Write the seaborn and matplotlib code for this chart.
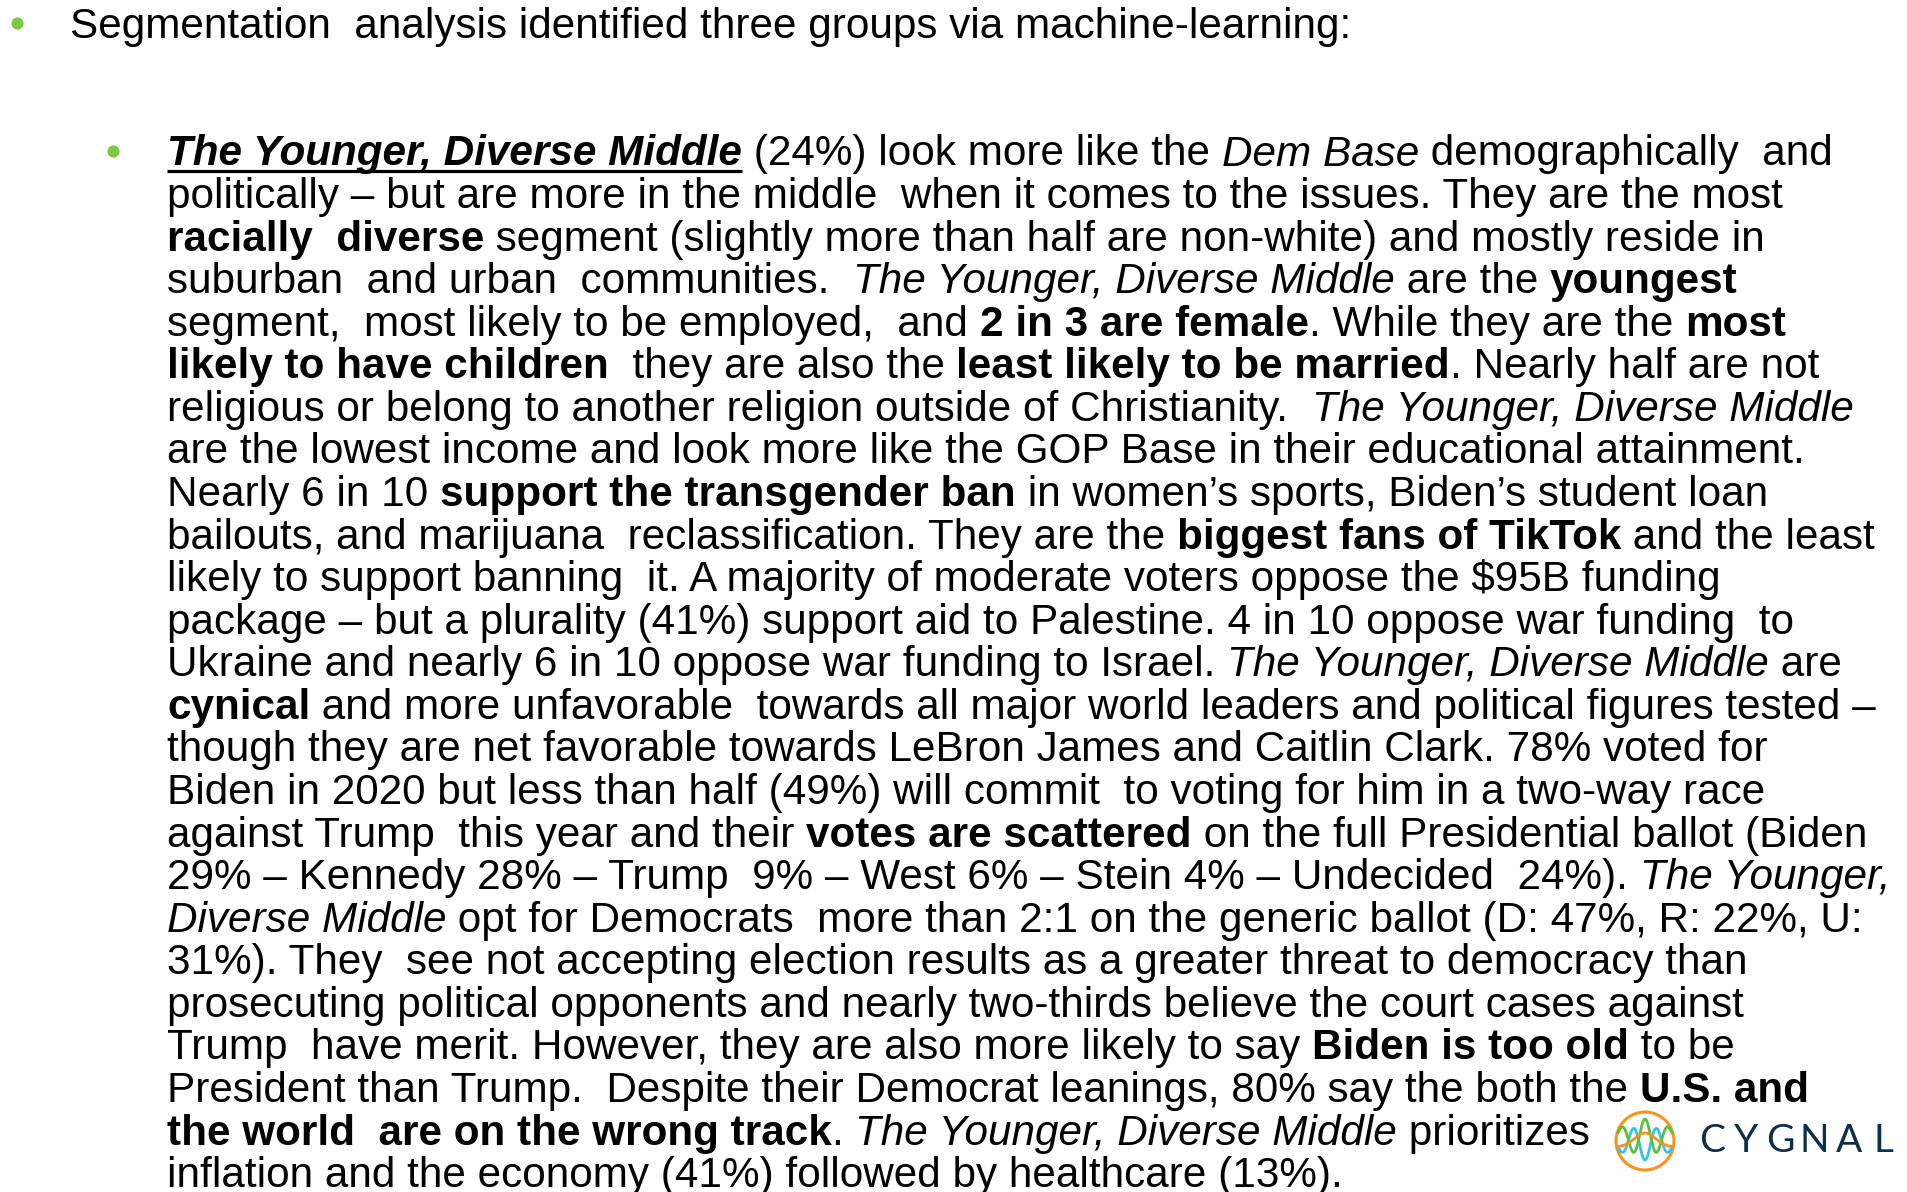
import re
import numpy as np
import matplotlib
matplotlib.use("Agg")
import matplotlib.pyplot as plt
import seaborn as sns

# slide text (markup: **bold**, _italic_, __bold italic underlined__)
header_text = "Segmentation  analysis identified three groups via machine-learning:"
body_lines = [
    "__The Younger, Diverse Middle__ (24%) look more like the _Dem Base_ demographically  and",
    "politically – but are more in the middle  when it comes to the issues. They are the most",
    "**racially  diverse** segment (slightly more than half are non-white) and mostly reside in",
    "suburban  and urban  communities.  _The Younger, Diverse Middle_ are the **youngest**",
    "segment,  most likely to be employed,  and **2 in 3 are female**. While they are the **most**",
    "**likely to have children**  they are also the **least likely to be married**. Nearly half are not",
    "religious or belong to another religion outside of Christianity.  _The Younger, Diverse Middle_",
    "are the lowest income and look more like the GOP Base in their educational attainment.",
    "Nearly 6 in 10 **support the transgender ban** in women’s sports, Biden’s student loan",
    "bailouts, and marijuana  reclassification. They are the **biggest fans of TikTok** and the least",
    "likely to support banning  it. A majority of moderate voters oppose the $95B funding",
    "package – but a plurality (41%) support aid to Palestine. 4 in 10 oppose war funding  to",
    "Ukraine and nearly 6 in 10 oppose war funding to Israel. _The Younger, Diverse Middle_ are",
    "**cynical** and more unfavorable  towards all major world leaders and political figures tested –",
    "though they are net favorable towards LeBron James and Caitlin Clark. 78% voted for",
    "Biden in 2020 but less than half (49%) will commit  to voting for him in a two-way race",
    "against Trump  this year and their **votes are scattered** on the full Presidential ballot (Biden",
    "29% – Kennedy 28% – Trump  9% – West 6% – Stein 4% – Undecided  24%). _The Younger,_",
    "_Diverse Middle_ opt for Democrats  more than 2:1 on the generic ballot (D: 47%, R: 22%, U:",
    "31%). They  see not accepting election results as a greater threat to democracy than",
    "prosecuting political opponents and nearly two-thirds believe the court cases against",
    "Trump  have merit. However, they are also more likely to say **Biden is too old** to be",
    "President than Trump.  Despite their Democrat leanings, 80% say the both the **U.S. and**",
    "**the world  are on the wrong track**. _The Younger, Diverse Middle_ prioritizes",
    "inflation and the economy (41%) followed by healthcare (13%).",
]
logo_letters = list("CYGNAL")

sns.set_theme(style="white")
plt.rcParams['font.family'] = ['Liberation Sans', 'DejaVu Sans']

W, H = 1907, 1192
fig = plt.figure(figsize=(W / 100, H / 100), dpi=100)
ax = fig.add_axes([0, 0, 1, 1])
ax.set_xlim(0, W)
ax.set_ylim(H, 0)
ax.axis('off')
renderer = fig.canvas.get_renderer()

FS = 30.4
green = '#7AC943'
styles = {
    'r': dict(fontweight='normal', fontstyle='normal'),
    'b': dict(fontweight='bold', fontstyle='normal'),
    'i': dict(fontweight='normal', fontstyle='italic'),
    'u': dict(fontweight='bold', fontstyle='italic'),
}
_cache = {}


def text_w(s, st):
    # width incl. leading/trailing spaces, measured between bars
    key = (s, st)
    if key not in _cache:
        t1 = ax.text(0, 0, '|' + s + '|', fontsize=FS, parse_math=False, **styles[st])
        t2 = ax.text(0, 0, '||', fontsize=FS, parse_math=False, **styles[st])
        _cache[key] = t1.get_window_extent(renderer).width - t2.get_window_extent(renderer).width
        t1.remove()
        t2.remove()
    return _cache[key]


def parse(line):
    runs = []
    for part in re.split(r'(__.*?__|\*\*.*?\*\*|_.*?_)', line):
        if not part:
            continue
        if part.startswith('__'):
            runs.append((part[2:-2], 'u'))
        elif part.startswith('**'):
            runs.append((part[2:-2], 'b'))
        elif part.startswith('_'):
            runs.append((part[1:-1], 'i'))
        else:
            runs.append((part, 'r'))
    return runs


def draw_line(x, y, line):
    for s, st in parse(line):
        ax.text(x, y, s, fontsize=FS, color='black', va='baseline', ha='left',
                parse_math=False, **styles[st])
        w = text_w(s, st)
        if st == 'u':
            ax.plot([x, x + w], [y + 5, y + 5], color='black', lw=2.3, solid_capstyle='butt')
        x += w


# bullets
ax.scatter([17, 113], [23, 151], s=60, color=green, zorder=3)

draw_line(70, 38, header_text)
base0, pitch = 165.5, 42.57
for i, line in enumerate(body_lines):
    draw_line(167, base0 + pitch * i, line)

# Cygnal logo
cx, cy, r = 1645, 1141, 29
ax.add_patch(plt.Circle((cx, cy), r, fill=False, ec='#F7931E', lw=2.2))
xx = np.linspace(-1, 1, 200)
env = np.exp(-(xx / 1.1) ** 2)
xs = cx + xx * r * 0.93
ax.plot(xs, cy + 2 + 17 * np.cos(7.3 * xx) * env, color='#33C3F0', lw=2)
ax.plot(xs, cy - 4 - 18 * np.cos(7.3 * xx) * env, color='#5BBF3A', lw=2)
ax.plot(xs, cy + 6 - 14 * np.exp(-(xx / 0.55) ** 2), color='#F7931E', lw=2)
for k, ch in enumerate(logo_letters):
    ax.text(1712 + k * 34.2, cy, ch, fontsize=28, family='Lato', color='#0D2F4A',
            ha='center', va='center')

fig.savefig('out.png', dpi=100)
